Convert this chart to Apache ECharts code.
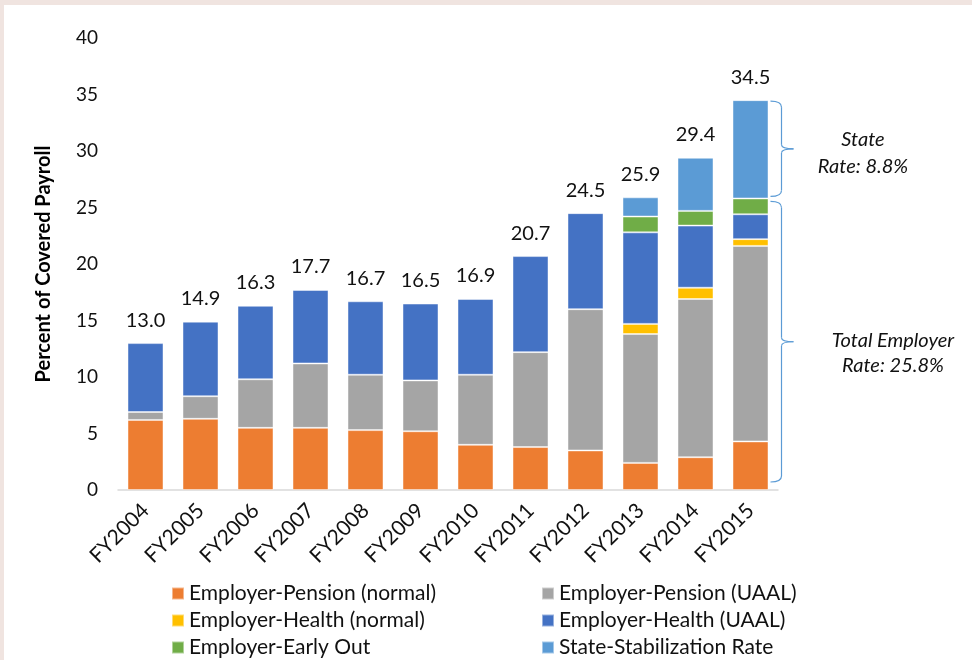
<!DOCTYPE html>
<html>
<head>
<meta charset="utf-8">
<script src="https://cdn.jsdelivr.net/npm/echarts@6/dist/echarts.min.js"></script>
<style>
	html, body { margin: 0; padding: 0; background: #fff; }
	#frame { position: absolute; left: 0; top: 0; width: 972px; height: 660px; box-sizing: border-box; border-left: 4px solid #f0e4e0; border-top: 5px solid #f0e4e0; }
	#chartmain { position: absolute; left: 0; top: 0; width: 972px; height: 660px; }
</style>
</head>
<body>
<div id="chartmain"></div>
<div id="frame"></div>
<script>
var years = ['FY2004', 'FY2005', 'FY2006', 'FY2007', 'FY2008', 'FY2009', 'FY2010', 'FY2011', 'FY2012', 'FY2013', 'FY2014', 'FY2015'];
var pensionNormal = [6.2, 6.3, 5.5, 5.5, 5.3, 5.2, 4.0, 3.8, 3.5, 2.4, 2.9, 4.3];
var pensionUaal = [0.7, 2.0, 4.3, 5.7, 4.9, 4.5, 6.2, 8.4, 12.5, 11.4, 14.0, 17.3];
var healthNormal = [null, null, null, null, null, null, null, null, null, 0.9, 1.0, 0.6];
var healthUaal = [6.1, 6.6, 6.5, 6.5, 6.5, 6.8, 6.7, 8.5, 8.5, 8.1, 5.5, 2.2];
var earlyOut = [null, null, null, null, null, null, null, null, null, 1.4, 1.3, 1.4];
var stateRate = [null, null, null, null, null, null, null, null, null, 1.7, 4.7, 8.7];
var yTicks = [0, 5, 10, 15, 20, 25, 30, 35, 40];

var font = 'Lato, "Noto Sans", sans-serif';

// totals over bars
var totals = [];
for (var i = 0; i < years.length; i++) {
	var s = 0;
	[pensionNormal, pensionUaal, healthNormal, healthUaal, earlyOut, stateRate].forEach(function(arr) {
		s += arr[i] || 0;
	});
	totals.push(Math.round(s * 10) / 10);
}

function stackBar(name, data, color) {
	return {
		name: name,
		type: 'bar',
		stack: 'all',
		barWidth: 36,
		data: data,
		itemStyle: { color: color, borderColor: 'rgba(255,255,255,0.45)', borderWidth: 1 }
	};
}

var series = [
	stackBar('Employer-Pension (normal)', pensionNormal, '#ED7D31'),
	stackBar('Employer-Pension (UAAL)', pensionUaal, '#A5A5A5'),
	stackBar('Employer-Health (normal)', healthNormal, '#FFC000'),
	stackBar('Employer-Health (UAAL)', healthUaal, '#4472C4'),
	stackBar('Employer-Early Out', earlyOut, '#70AD47'),
	stackBar('State-Stabilization Rate', stateRate, '#5B9BD5'),
	{
		name: 'total',
		type: 'bar',
		barWidth: 36,
		barGap: '-100%',
		silent: true,
		z: 1,
		data: totals,
		itemStyle: { color: 'rgba(0,0,0,0)' },
		label: {
			show: true,
			position: 'top',
			distance: 13,
			fontFamily: font,
			fontSize: 20,
			color: '#111',
			formatter: function(p) { return p.value.toFixed(1); }
		}
	}
];

var legendText = { fontFamily: font, fontSize: 21, color: '#111' };

var option = {
	animation: false,
	grid: { left: 118, right: 194, top: 38, bottom: 170 },
	xAxis: {
		type: 'category',
		data: years,
		axisLine: { lineStyle: { color: '#d9d9d9', width: 1.5 } },
		axisTick: { show: false },
		axisLabel: { rotate: 45, margin: 17, fontFamily: font, fontSize: 21, color: '#111' }
	},
	yAxis: {
		type: 'value',
		min: 0,
		max: 40,
		interval: 5,
		name: 'Percent of Covered Payroll',
		nameLocation: 'middle',
		nameRotate: 90,
		nameGap: 64,
		nameTextStyle: { fontFamily: font, fontSize: 20, fontWeight: 'bold', color: '#000' },
		splitLine: { show: false },
		axisLine: { show: false },
		axisTick: { show: false },
		axisLabel: {
			margin: 20, fontFamily: font, fontSize: 19, color: '#111',
			formatter: function(v) { return yTicks.indexOf(v) >= 0 ? String(v) : ''; }
		}
	},
	legend: [
		{
			orient: 'vertical', left: 171, top: 583, height: 120, padding: 0, itemWidth: 12, itemHeight: 12, itemGap: 6, icon: 'rect',
			textStyle: legendText, selectedMode: false,
			data: ['Employer-Pension (normal)', 'Employer-Health (normal)', 'Employer-Early Out']
		},
		{
			orient: 'vertical', left: 541, top: 583, height: 120, padding: 0, itemWidth: 12, itemHeight: 12, itemGap: 6, icon: 'rect',
			textStyle: legendText, selectedMode: false,
			data: ['Employer-Pension (UAAL)', 'Employer-Health (UAAL)', 'State-Stabilization Rate']
		}
	],
	series: series
};

var myChart = echarts.init(document.getElementById('chartmain'));
myChart.setOption(option);

// curly bracket pieces for FY2015 notes
var braceStyle = { fill: null, stroke: '#5B9BD5', lineWidth: 1.2 };
function brace(x0, y1, y2) {
	var xs = x0 + 11, xt = x0 + 23, ym = (y1 + y2) / 2;
	return [
		{ type: 'bezierCurve', shape: { x1: x0, y1: y1, cpx1: xs, cpy1: y1, x2: xs, y2: y1 + 6 }, style: braceStyle },
		{ type: 'line', shape: { x1: xs, y1: y1 + 6, x2: xs, y2: ym - 4 }, style: braceStyle },
		{ type: 'bezierCurve', shape: { x1: xs, y1: ym - 4, cpx1: xs, cpy1: ym, x2: xt, y2: ym }, style: braceStyle },
		{ type: 'bezierCurve', shape: { x1: xt, y1: ym, cpx1: xs, cpy1: ym, x2: xs, y2: ym + 4 }, style: braceStyle },
		{ type: 'line', shape: { x1: xs, y1: ym + 4, x2: xs, y2: y2 - 6 }, style: braceStyle },
		{ type: 'bezierCurve', shape: { x1: xs, y1: y2 - 6, cpx1: xs, cpy1: y2, x2: x0, y2: y2 }, style: braceStyle }
	];
}
var last = years.length - 1;
var employerTop = totals[last] - stateRate[last];
var pTop = myChart.convertToPixel({ seriesIndex: 0 }, [last, totals[last]]);
var pMid = myChart.convertToPixel({ seriesIndex: 0 }, [last, employerTop]);
var pZero = myChart.convertToPixel({ seriesIndex: 0 }, [last, 0]);
var bx = pTop[0] + 20;
var y1 = pTop[1] + 1, y2 = pMid[1] - 2, y3 = pMid[1] + 3, y4 = pZero[1] - 8;
var noteStyle = { font: 'italic 20px ' + font, fill: '#111', align: 'center', verticalAlign: 'middle' };
var graphics = brace(bx, y1, y2).concat(brace(bx, y3, y4));
graphics.push(
	{ type: 'text', x: 863, y: (y1 + y2) / 2 - 9, style: Object.assign({ text: 'State' }, noteStyle) },
	{ type: 'text', x: 863, y: (y1 + y2) / 2 + 18, style: Object.assign({ text: 'Rate: 8.8%' }, noteStyle) },
	{ type: 'text', x: 893, y: (y3 + y4) / 2 - 1, style: Object.assign({ text: 'Total Employer' }, noteStyle) },
	{ type: 'text', x: 893, y: (y3 + y4) / 2 + 24, style: Object.assign({ text: 'Rate: 25.8%' }, noteStyle) }
);
myChart.setOption({ graphic: graphics });
</script>
</body>
</html>
